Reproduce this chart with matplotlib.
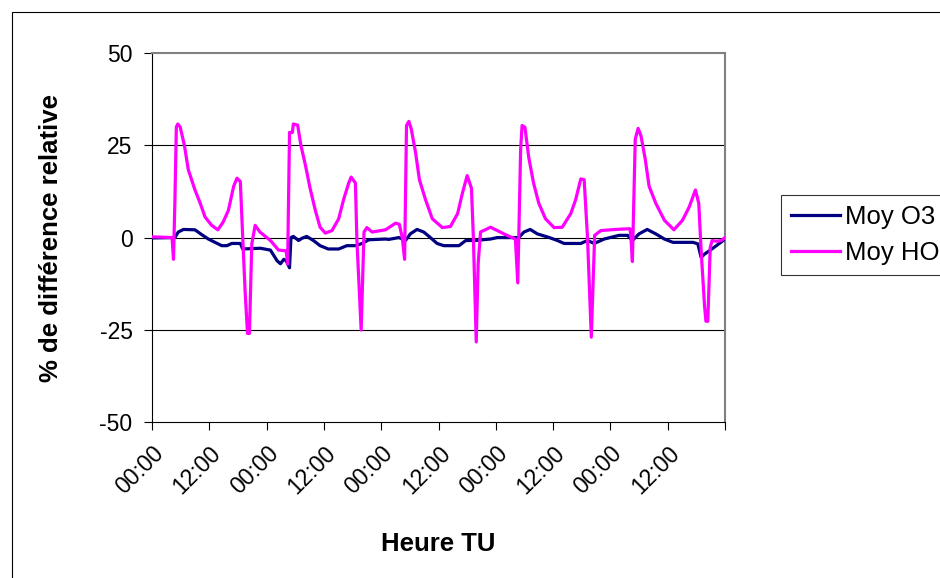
import numpy as np
import matplotlib.pyplot as plt
from matplotlib.patches import Rectangle

plt.rcParams['font.family'] = ['Liberation Sans', 'DejaVu Sans']
plt.rcParams['axes.unicode_minus'] = False

# heures depuis le début (0 -> 120 h)
heures_ho = [0, 4.2, 4.5, 4.8, 5.1, 5.4, 5.9, 6.8, 7.6, 9.0, 10.1, 11.1, 12.5, 13.8, 14.9,
             16.0, 17.1, 17.8, 18.5, 19.0, 19.5, 20.0, 20.4, 20.9, 21.6, 22.6, 24.8,
             26.5, 28.1, 28.4, 28.8, 29.4, 29.6, 30.5, 31.2, 32.1, 33.1, 34.2, 35.2,
             36.3, 37.7, 39.1, 40.1, 41.2, 41.7, 42.6, 42.9, 43.8, 44.4, 45.0, 46.1,
             48.9, 51.0, 51.8, 52.4, 52.9, 53.3, 53.8, 54.3, 55.2, 56.0, 57.3, 58.7,
             60.8, 62.5, 64.0, 65.0, 66.0, 66.9, 67.3, 67.9, 68.3, 68.8, 70.9, 72.3,
             74.0, 76.1, 76.6, 77.2, 77.5, 78.1, 78.9, 79.9, 81.0, 82.4, 84.2, 85.9,
             87.7, 88.7, 89.8, 90.5, 91.2, 92.0, 92.7, 94.0, 97.1, 100.1, 100.3, 100.6,
             101.2, 101.8, 102.4, 103.3, 104.1, 105.5, 107.3, 109.3, 111.1, 112.5,
             113.8, 114.5, 115.0, 115.7, 116.0, 116.4, 116.9, 117.3, 118.2, 119.2, 120.0]
moy_ho = [0.2, 0.0, -5.9, 10.0, 30.0, 30.8, 30.0, 24.9, 18.4, 12.9, 9.3, 5.6, 3.3, 2.1, 4.2,
          7.4, 13.9, 16.1, 15.2, 0.0, -14.6, -26.0, -26.0, -1.7, 3.3, 1.5, -0.8,
          -3.4, -3.6, -7.2, 28.5, 28.5, 30.8, 30.5, 24.9, 19.8, 13.4, 7.4, 2.8,
          1.2, 1.9, 5.1, 10.2, 14.8, 16.4, 14.8, -0.4, -25.1, 1.5, 2.7, 1.5,
          2.1, 3.9, 3.6, 0.0, -5.9, 30.4, 31.5, 29.4, 23.0, 15.7, 10.2, 5.1,
          2.7, 3.0, 6.5, 12.0, 16.8, 13.4, 0.0, -28.3, -7.2, 1.5, 2.8, 1.9,
          0.8, -0.4, -12.3, 23.9, 30.4, 29.9, 21.7, 14.8, 9.3, 5.1, 2.7, 2.8,
          6.5, 10.2, 15.9, 15.7, 0.0, -27.0, 0.6, 1.9, 2.2, 2.4, 0.0, -6.5,
          26.7, 29.6, 27.6, 21.2, 13.9, 9.3, 4.7, 2.1, 4.7, 8.3,
          12.9, 9.3, -3.6, -18.3, -22.7, -22.7, -2.7, -0.8, -1.0, -0.8, 0.0]

heures_o3 = [0, 4.8, 5.5, 6.6, 9.0, 10.4, 11.8, 13.2, 14.6, 15.7, 16.7, 18.5, 19.0, 22.7,
             24.8, 26.2, 26.9, 27.6, 28.1, 28.8, 29.1, 29.6, 30.7, 31.4, 32.4, 33.8,
             35.2, 36.9, 39.1, 40.8, 42.6, 44.0, 45.4, 48.9, 49.6, 51.7, 53.1, 54.1,
             55.5, 56.9, 58.3, 59.7, 61.1, 64.3, 65.7, 67.8, 69.2, 70.9, 72.3, 75.1,
             76.8, 77.9, 79.2, 80.7, 83.2, 84.9, 86.3, 89.8, 91.2, 92.6, 94.7, 97.8,
             99.6, 100.6, 102.0, 103.7, 105.5, 107.3, 109.1, 113.3, 114.3, 115.0,
             115.7, 116.7, 118.2, 120.0]
moy_o3 = [-0.1, 0.0, 1.5, 2.2, 2.1, 0.8, -0.4, -1.3, -2.2, -2.2, -1.6, -1.6, -3.1, -2.9,
          -3.4, -6.3, -7.1, -5.9, -6.3, -8.2, 0.0, 0.3, -0.8, -0.2, 0.3, -0.8,
          -2.2, -3.1, -3.1, -2.2, -2.2, -1.6, -0.6, -0.4, -0.5, 0.0, -0.8, 1.0,
          2.2, 1.5, 0.0, -1.6, -2.2, -2.2, -0.8, -0.8, -0.6, -0.4, 0.0, 0.0,
          0.0, 1.5, 2.2, 1.0, 0.0, -0.8, -1.6, -1.6, -0.8, -1.6, -0.4, 0.6,
          0.6, -0.8, 1.0, 2.2, 1.0, -0.4, -1.3, -1.3, -1.7, -5.4,
          -4.5, -3.6, -2.2, -0.4]

ticks_x = np.arange(0, 120, 12)
labels_x = ['00:00', '12:00'] * 5

fig = plt.figure(figsize=(9.4, 5.78), dpi=100)
ax = fig.add_axes([0.1617, 0.270, 0.6096, 0.638])

ax.plot(heures_o3, moy_o3, color='#000080', lw=2.3, label='Moy O3', zorder=3)
ax.plot(heures_ho, moy_ho, color='#FF00FF', lw=2.3, label='Moy HO', zorder=3)

ax.set_xlim(0, 120)
ax.set_ylim(-50, 50)
ax.set_yticks([-50, -25, 0, 25, 50])
ax.set_xticks(list(ticks_x) + [120])
ax.set_xticklabels(labels_x + [''], rotation=45, ha='right', rotation_mode='anchor')
for y in [-25, 0, 25]:
    ax.axhline(y, color='black', lw=0.8, zorder=1)

ax.tick_params(axis='both', labelsize=16.5, direction='out', length=6, color='black')
ax.tick_params(axis='x', pad=8)
ax.tick_params(axis='y', pad=8)
ax.spines['top'].set_color('#808080')
ax.spines['right'].set_color('#808080')
ax.spines['top'].set_linewidth(1.5)
ax.spines['right'].set_linewidth(1.5)

ax.set_xlabel('Heure TU', fontsize=18.5, fontweight='bold', labelpad=24)
ax.set_ylabel('% de différence relative', fontsize=18.5, fontweight='bold', labelpad=26)

leg = ax.legend(loc='upper left', bbox_to_anchor=(781 / 940, 1 - 195 / 578),
                bbox_transform=fig.transFigure, fontsize=18.5,
                frameon=True, fancybox=False, edgecolor='black', handlelength=1.9,
                handletextpad=0.2, borderpad=0.4, labelspacing=0.45, borderaxespad=0)
leg.get_frame().set_linewidth(0.8)

fig.patches.append(Rectangle((12 / 940, -0.01), 1.0, 1.01 - 12 / 578, transform=fig.transFigure,
                             fill=False, edgecolor='black', lw=0.8))

fig.savefig('out.png', dpi=100)
